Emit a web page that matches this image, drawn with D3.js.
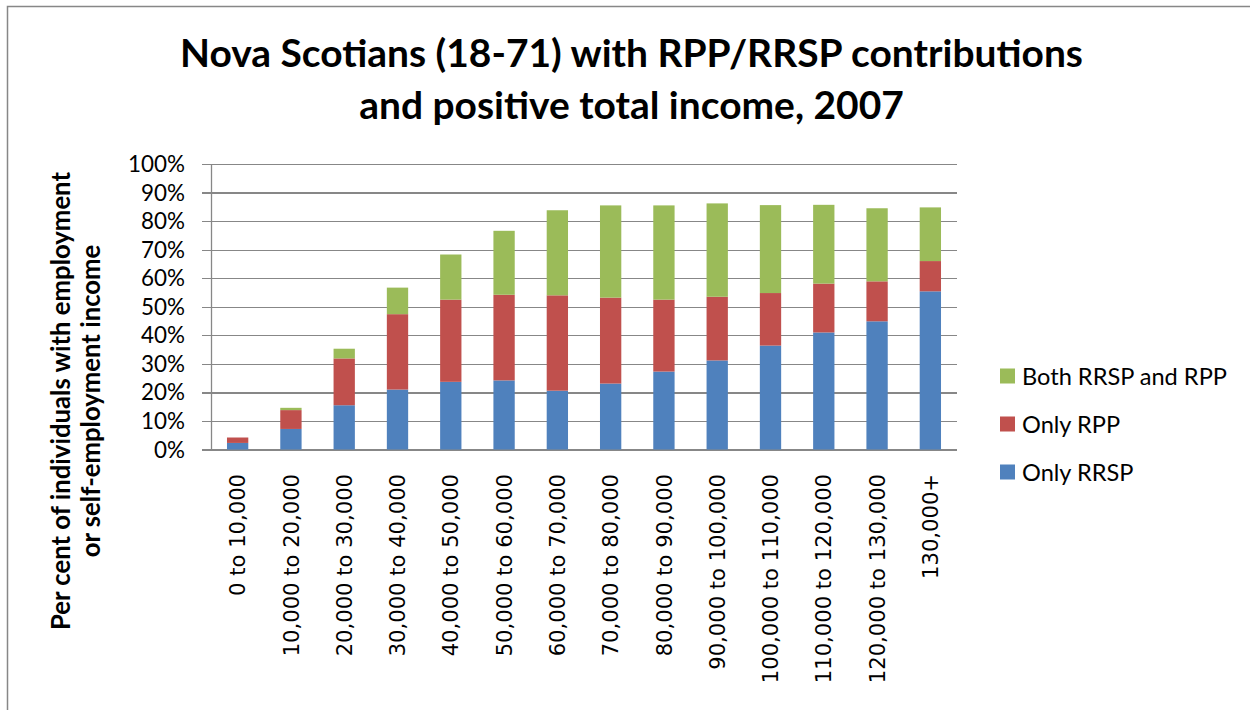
<!DOCTYPE html>
<html>
<head>
<meta charset="utf-8">
<script src="https://cdn.jsdelivr.net/npm/d3@7"></script>
<style>
  body { margin: 0; background: #fff; }
  svg { display: block; }
</style>
</head>
<body>
<script>
// income brackets (x axis)
var categories = ["0 to 10,000", "10,000 to 20,000", "20,000 to 30,000", "30,000 to 40,000",
    "40,000 to 50,000", "50,000 to 60,000", "60,000 to 70,000", "70,000 to 80,000",
    "80,000 to 90,000", "90,000 to 100,000", "100,000 to 110,000", "110,000 to 120,000",
    "120,000 to 130,000", "130,000+"]

// per cent of individuals
var onlyRRSP = [2.3, 7.2, 15.5, 21.0, 23.7, 24.2, 20.6, 23.1, 27.3, 31.2, 36.4, 41.0, 44.9, 55.4]
var onlyRPP = [1.9, 6.6, 16.4, 26.4, 28.8, 30.0, 33.4, 30.1, 25.2, 22.3, 18.4, 17.1, 14.0, 10.6]
var bothRRSPandRPP = [0.0, 0.8, 3.4, 9.3, 15.8, 22.4, 29.8, 32.3, 33.0, 32.7, 30.8, 27.6, 25.6, 18.8]

var yTicks = [0, 10, 20, 30, 40, 50, 60, 70, 80, 90, 100]
var seriesNames = ["Only RRSP", "Only RPP", "Both RRSP and RPP"]
var colors = ["#4F81BD", "#C0504D", "#9BBB59"]

var calibri = "Lato, 'Open Sans', sans-serif"
var verdana = "'DejaVu Sans', Verdana, sans-serif"

var svg = d3.select("body").append("svg").attr("width", 1250).attr("height", 710)

// chart frame (only top and left edges show in the picture)
svg.append("rect").attr("x", 7.5).attr("y", 6.5).attr("width", 1300).attr("height", 800)
    .attr("fill", "none").attr("stroke", "#878787").attr("stroke-width", 1.5)

// scale a text so it spans a given width
function fit(sel, target) {
    var w = sel.node().getComputedTextLength()
    var fs = parseFloat(sel.attr("font-size"))
    sel.attr("font-size", fs * target / w)
}

var x = d3.scaleBand().domain(categories).range([211, 957]).paddingInner(0.6).paddingOuter(0.3)
var y = d3.scaleLinear().domain([0, 100]).range([449.5, 164])

// gridlines + left tick marks
var grid = svg.append("g").attr("transform", "translate(202,0)")
    .call(d3.axisLeft(y).tickValues(yTicks).tickSize(-755).tickFormat(""))
grid.select(".domain").remove()
grid.selectAll("line").attr("stroke", "#878787").attr("stroke-width", 1.3)
    .attr("shape-rendering", "crispEdges")

// y axis line
svg.append("line").attr("x1", 211.5).attr("x2", 211.5).attr("y1", y(100)).attr("y2", y(0))
    .attr("stroke", "#878787").attr("stroke-width", 1.3)

// tick labels
var tl = svg.append("g").selectAll("text").data(yTicks).enter().append("text")
    .attr("x", 185).attr("y", d => y(d)).attr("dy", "0.36em")
    .attr("text-anchor", "end").attr("font-family", calibri).attr("font-size", 22)
    .attr("fill", "#000").text(d => d + "%")
fit(d3.select(tl.nodes()[10]), 57)
tl.attr("font-size", d3.select(tl.nodes()[10]).attr("font-size"))

// stacked bars
var rows = categories.map(function(c, i) {
    return { cat: c, s0: onlyRRSP[i], s1: onlyRPP[i], s2: bothRRSPandRPP[i] }
})
var stacked = d3.stack().keys(["s0", "s1", "s2"])(rows)

svg.append("g").selectAll("g").data(stacked).enter().append("g")
    .attr("fill", (d, i) => colors[i])
    .selectAll("rect").data(d => d).enter().append("rect")
    .attr("x", d => x(d.data.cat))
    .attr("width", x.bandwidth())
    .attr("y", d => y(d[1]))
    .attr("height", d => Math.max(0, y(d[0]) - y(d[1])))

// category labels, rotated
var cl = svg.append("g").selectAll("text").data(categories).enter().append("text")
    .attr("transform", d => "translate(" + (x(d) + x.bandwidth() / 2) + ",474) rotate(-90)")
    .attr("dy", "0.36em").attr("text-anchor", "end")
    .attr("font-family", verdana).attr("font-size", 20).attr("fill", "#000")
    .text(d => d)
fit(d3.select(cl.nodes()[0]), 122)
cl.attr("font-size", d3.select(cl.nodes()[0]).attr("font-size"))

// title
var t1 = svg.append("text").attr("x", 631.5).attr("y", 67).attr("text-anchor", "middle")
    .attr("font-family", calibri).attr("font-weight", "bold").attr("font-size", 36)
    .text("Nova Scotians (18-71) with RPP/RRSP contributions")
fit(t1, 903)
svg.append("text").attr("x", 631.5).attr("y", 119).attr("text-anchor", "middle")
    .attr("font-family", calibri).attr("font-weight", "bold").attr("font-size", t1.attr("font-size"))
    .text("and positive total income, 2007")

// y axis title
var yt = svg.append("g").attr("transform", "translate(78,401) rotate(-90)")
var yt1 = yt.append("text").attr("y", -8).attr("text-anchor", "middle")
    .attr("font-family", calibri).attr("font-weight", "bold").attr("font-size", 21)
    .text("Per cent of individuals with employment")
fit(yt1, 458)
yt.append("text").attr("y", 22).attr("text-anchor", "middle")
    .attr("font-family", calibri).attr("font-weight", "bold").attr("font-size", yt1.attr("font-size"))
    .text("or self-employment income")

// legend (green on top)
var legendY = [472, 424, 376]
var lg = svg.append("g").selectAll("g").data(seriesNames).enter().append("g")
    .attr("transform", (d, i) => "translate(1000," + legendY[i] + ")")
lg.append("rect").attr("x", 0).attr("y", -7.5).attr("width", 15).attr("height", 15)
    .attr("fill", (d, i) => colors[i])
var lt = lg.append("text").attr("x", 22).attr("dy", "0.36em")
    .attr("font-family", calibri).attr("font-size", 22).attr("fill", "#000").text(d => d)
fit(d3.select(lt.nodes()[2]), 205)
lt.attr("font-size", d3.select(lt.nodes()[2]).attr("font-size"))
</script>
</body>
</html>
